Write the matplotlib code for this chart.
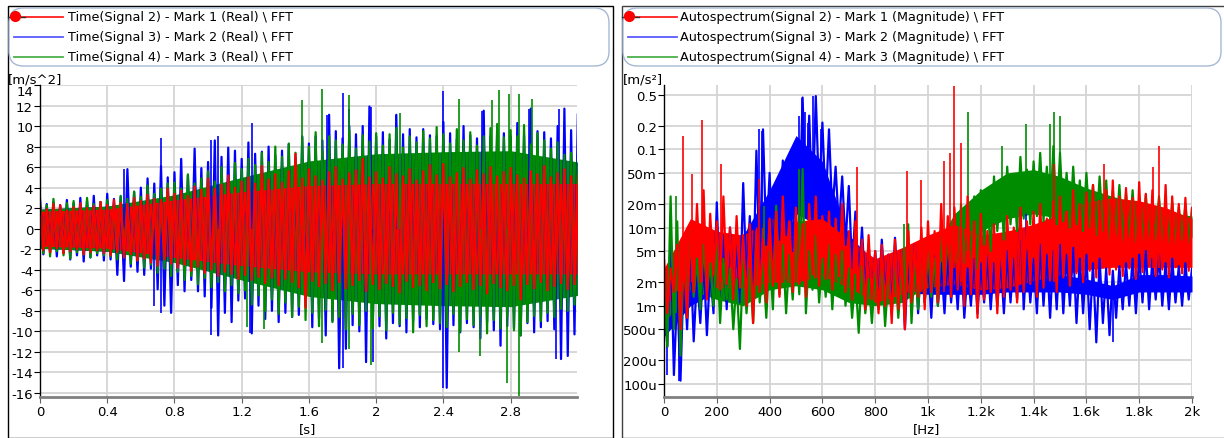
import numpy as np
import matplotlib.pyplot as plt
from matplotlib.patches import FancyBboxPatch, Rectangle
from matplotlib.lines import Line2D
from matplotlib.ticker import FixedLocator, FixedFormatter, NullLocator

plt.rcParams['font.family'] = 'DejaVu Sans'
plt.rcParams['axes.unicode_minus'] = False

W, H = 1224, 439
RED, BLUE, GREEN = '#ff0000', '#0000ff', '#008c00'

legend_time = ['Time(Signal 2) - Mark 1 (Real) \\ FFT',
               'Time(Signal 3) - Mark 2 (Real) \\ FFT',
               'Time(Signal 4) - Mark 3 (Real) \\ FFT']
legend_spec = ['Autospectrum(Signal 2) - Mark 1 (Magnitude) \\ FFT',
               'Autospectrum(Signal 3) - Mark 2 (Magnitude) \\ FFT',
               'Autospectrum(Signal 4) - Mark 3 (Magnitude) \\ FFT']

# ---- time signals [m/s^2]
# solid inner band every 0.4 s, swing extremes every 0.04 s, single peaks
t_core = [0.0, 0.4, 0.8, 1.2, 1.6, 2.0, 2.4, 2.8, 3.2]
red_core = [1.7, 1.9, 2.8, 3.6, 4.2, 4.4, 4.4, 4.4, 4.4]
green_core = [1.9, 2.2, 3.3, 5.0, 6.6, 7.3, 7.5, 7.6, 6.5]
blue_core = [1.9, 2.2, 3.2, 4.8, 6.3, 7.0, 7.2, 7.3, 6.3]

t_edge = [round(0.04 * k, 2) for k in range(81)]
red_hi = [2.2, 1.9, 2.4, 2.3, 1.8, 2.1, 2.5, 2.0, 2.2, 2.6,
          2.3, 2.8, 2.5, 2.4, 3.0, 2.7, 3.3, 2.9, 2.8, 3.9,
          3.4, 3.7, 3.2, 4.1, 3.8, 4.9, 3.9, 4.3, 5.2, 4.0,
          4.6, 5.0, 4.4, 6.1, 4.8, 5.3, 4.5, 5.6, 7.3, 4.9,
          5.8, 5.1, 4.7, 5.5, 6.0, 4.8, 5.4, 5.7, 6.8, 5.0,
          5.5, 4.9, 6.0, 5.3, 5.1, 5.8, 4.7, 5.6, 6.2, 5.2,
          6.3, 5.0, 5.4, 5.9, 4.8, 5.7, 5.3, 6.0, 5.1, 5.5,
          5.9, 5.2, 4.9, 5.6, 5.3, 6.1, 5.0, 5.4, 5.8, 5.1, 5.3]
red_lo = [-2.1, -2.3, -1.9, -2.4, -2.2, -2.0, -2.5, -2.3, -2.1, -2.4,
          -2.6, -2.3, -2.8, -2.5, -3.1, -2.9, -3.3, -3.6, -3.0, -3.4,
          -3.8, -3.5, -4.1, -3.7, -4.3, -4.0, -4.6, -4.2, -4.4, -4.9,
          -4.5, -5.0, -4.7, -5.3, -4.8, -5.5, -4.9, -5.2, -5.7, -7.7,
          -5.1, -5.6, -5.3, -6.0, -5.2, -5.8, -5.5, -5.0, -6.1, -5.4,
          -5.9, -5.3, -5.6, -6.2, -5.1, -5.7, -5.5, -6.0, -5.2, -5.8,
          -5.4, -6.1, -5.6, -5.2, -5.9, -5.5, -6.3, -5.3, -5.7, -6.0,
          -5.5, -6.9, -5.4, -5.8, -5.2, -6.0, -5.6, -5.3, -5.9, -5.4, -5.5]
green_hi = [2.6, 2.3, 2.9, 2.2, 2.5, 2.7, 2.3, 3.0, 2.4, 2.6,
            2.8, 2.5, 3.2, 2.9, 3.6, 3.1, 4.2, 3.4, 3.9, 4.4,
            4.5, 3.9, 5.3, 4.4, 4.9, 5.6, 4.6, 6.0, 5.1, 6.4,
            5.8, 6.8, 6.2, 7.4, 6.5, 8.0, 7.0, 8.3, 7.4, 8.9,
            8.0, 9.4, 7.6, 9.0, 8.6, 8.2, 9.6, 7.8, 9.1, 8.5,
            9.3, 8.1, 9.2, 9.8, 7.9, 9.0, 8.4, 9.5, 8.8, 9.9,
            9.2, 8.3, 9.7, 8.6, 9.4, 8.1, 9.0, 9.8, 10.2, 8.9,
            9.6, 9.0, 10.1, 8.2, 9.3, 8.6, 7.8, 8.4, 7.2, 7.4, 6.8]
green_lo = [-2.4, -2.7, -2.2, -2.6, -2.9, -2.3, -2.5, -2.8, -2.4, -2.6,
            -2.7, -3.0, -2.8, -3.4, -3.1, -3.8, -3.5, -4.3, -3.9, -4.6,
            -4.2, -5.0, -4.6, -5.4, -4.8, -5.7, -5.2, -6.1, -5.5, -6.3,
            -6.0, -7.4, -6.5, -8.0, -6.9, -8.3, -7.2, -8.6, -7.6, -8.9,
            -8.2, -9.5, -7.9, -9.1, -8.6, -9.8, -8.3, -9.4, -8.0, -9.7,
            -8.5, -9.9, -8.2, -9.3, -8.7, -10.1, -8.4, -9.5, -8.9, -9.2,
            -9.6, -8.3, -10.0, -8.8, -9.4, -8.5, -10.2, -8.9, -9.7, -8.6,
            -9.9, -10.4, -9.1, -8.5, -9.0, -8.2, -8.6, -7.8, -8.0, -7.4, -7.2]
blue_hi = [2.9, 2.4, 2.6, 2.3, 2.8, 2.5, 3.0, 2.7, 3.2, 2.6,
           3.4, 2.9, 3.1, 5.8, 3.6, 4.0, 4.9, 4.4, 6.1, 5.0,
           5.5, 6.8, 5.2, 7.8, 5.9, 6.5, 8.6, 7.0, 7.9, 7.6,
           6.8, 8.4, 7.3, 7.5, 8.0, 7.1, 7.6, 8.2, 6.9, 9.0,
           8.3, 9.0, 8.6, 11.1, 9.5, 8.8, 10.0, 9.2, 10.0, 11.9,
           9.0, 9.4, 8.7, 11.1, 9.2, 9.7, 8.9, 9.7, 9.1, 9.0,
           10.4, 9.3, 8.7, 10.0, 9.1, 8.8, 11.5, 9.0, 9.7, 9.3,
           9.0, 10.3, 9.1, 11.7, 9.5, 9.4, 8.8, 10.0, 11.7, 9.6, 11.2]
blue_lo = [-2.5, -2.3, -2.7, -2.4, -3.0, -2.6, -3.2, -2.8, -2.6, -3.1,
           -3.0, -4.5, -5.1, -3.7, -4.2, -4.5, -3.9, -5.9, -7.5, -8.2,
           -5.5, -6.1, -5.0, -6.1, -6.6, -7.7, -10.4, -8.2, -9.1, -7.0,
           -6.8, -10.2, -7.5, -8.8, -8.0, -9.1, -8.2, -8.6, -8.4, -7.5,
           -9.6, -8.8, -10.4, -9.0, -13.6, -11.7, -9.4, -10.0, -13.0, -9.3,
           -9.5, -10.7, -9.2, -9.5, -10.1, -9.0, -9.6, -8.8, -9.3, -9.8,
           -15.5, -9.4, -10.1, -9.2, -9.6, -10.7, -9.1, -9.9, -11.4, -9.5,
           -9.7, -10.4, -9.2, -10.1, -9.6, -9.0, -9.8, -12.7, -12.4, -10.3, -11.1]

blue_pk_t = [0.50, 0.72, 1.02, 1.06, 1.26, 1.71, 1.80, 1.84, 1.97, 2.12, 2.40, 2.63, 2.91, 3.09,
             0.68, 0.72, 1.02, 1.25, 1.80, 1.98, 2.40, 3.07]
blue_pk_v = [5.8, 8.8, 8.6, 9.0, 10.3, 11.1, 13.2, 11.7, 11.9, 11.1, 13.4, 11.5, 11.7, 11.7,
             -7.5, -8.2, -10.4, -10.2, -13.6, -13.0, -15.5, -12.7]
green_pk_t = [1.56, 1.68, 1.84, 2.14, 2.49, 2.69, 2.73, 2.79, 2.85, 2.93,
              1.23, 1.33, 1.68, 1.84, 1.97, 2.49, 2.62, 2.78, 2.85]
green_pk_v = [12.5, 13.6, 13.0, 11.3, 12.6, 12.5, 13.5, 13.1, 13.1, 12.6,
              -9.6, -9.8, -11.1, -11.7, -13.3, -12.0, -12.4, -15.0, -16.3]

# ---- autospectra [m/s^2], values in milli
# solid inner band every 100 Hz, swing extremes every 25 Hz, single strokes
f_core = [100 * k for k in range(21)]
red_core_lo = [1.0, 2.0, 1.7, 1.7, 2.0, 2.0, 2.4, 1.7, 1.1, 1.4, 1.7, 1.9, 1.6, 1.7, 2.1, 2.5, 2.9, 3.1, 3.1, 3.1, 3.1]
red_core_hi = [3, 13, 9, 8, 13, 12, 13, 7, 4, 5.5, 8, 11, 8, 9, 11, 15, 21, 24, 22, 18, 13]
green_core_lo = [0.6, 1.6, 1.2, 1.0, 1.6, 1.8, 1.6, 1.1, 1.0, 1.1, 1.8, 4.5, 9, 13, 15, 13, 10, 8.5, 7.5, 7.5, 7.5]
green_core_hi = [1.5, 4, 3, 2.5, 4, 4.5, 4, 2.5, 2, 2.5, 4, 15, 30, 50, 55, 45, 32, 25, 20, 16, 14]
blue_core_lo = [0.4, 1.0, 1.5, 2.0, 5, 15, 10, 2.5, 1.8, 1.5, 1.4, 1.4, 1.4, 1.5, 1.5, 1.5, 1.4, 1.2, 1.5, 1.5, 1.5]
blue_core_hi = [1.5, 3, 4, 8, 30, 150, 70, 8, 3.5, 3, 2.2, 2.2, 2.2, 2.5, 2.5, 2.5, 2.2, 1.8, 2.5, 2.5, 2.4]

f_edge = [25 * k for k in range(81)]
red_ehi = [4, 3, 6, 5, 9, 20, 30, 15, 12, 25,
           10, 14, 8, 11, 9, 7, 13, 16, 25, 12,
           18, 11, 20, 25, 14, 16, 13, 20, 9, 12,
           7, 8, 5, 6, 4.5, 7, 5, 9, 6, 10,
           12, 9, 20, 14, 18, 10, 25, 12, 15, 9,
           11, 8, 14, 10, 18, 12, 16, 20, 13, 22,
           25, 16, 30, 20, 28, 35, 22, 30, 40, 25,
           32, 24, 38, 27, 30, 22, 35, 25, 20, 24, 18]
red_elo = [0.8, 1.5, 0.5, 0.7, 1.5, 2.0, 1.2, 2.5, 1.6, 1.9,
           1.2, 1.7, 1.0, 0.6, 1.5, 1.1, 1.8, 1.3, 2.2, 1.5,
           1.9, 1.3, 2.5, 1.8, 2.2, 1.6, 2.4, 1.5, 1.2, 1.6,
           0.9, 1.2, 0.8, 1.0, 0.6, 0.9, 0.5, 1.1, 1.3, 0.9,
           1.5, 1.1, 1.8, 1.3, 1.6, 1.0, 1.4, 0.7, 1.2, 1.5,
           0.8, 1.3, 1.6, 1.1, 1.5, 1.9, 1.3, 1.7, 2.1, 1.5,
           2.3, 1.8, 2.6, 2.0, 2.8, 2.3, 3.1, 2.5, 2.9, 2.4,
           3.0, 2.2, 2.7, 3.2, 2.4, 2.9, 2.3, 3.1, 2.6, 2.8, 2.7]
green_ehi = [2, 25, 12, 5, 9, 4, 6, 3.5, 7, 4,
             3, 2.2, 4, 3, 8, 3.5, 5, 19, 6, 4.5,
             7, 56, 5, 8, 4, 6, 4.5, 5, 3, 2.5,
             3.2, 2.2, 2.8, 3.5, 2.4, 3, 2.6, 11, 4, 3.5,
             5, 4, 8, 7, 12, 20, 15, 25, 30, 22,
             45, 35, 60, 40, 80, 55, 70, 90, 60, 110,
             90, 50, 60, 40, 50, 35, 45, 40, 30, 35,
             28, 30, 24, 26, 22, 25, 19, 21, 18, 20, 17]
green_elo = [0.3, 0.5, 0.23, 0.8, 1.3, 0.9, 1.5, 1.0, 0.6, 1.2,
             0.5, 0.28, 0.8, 0.6, 1.1, 0.7, 0.9, 1.4, 0.8, 1.2,
             1.4, 0.8, 1.6, 1.1, 1.3, 0.9, 1.5, 1.0, 0.7, 0.45,
             0.8, 0.6, 0.9, 0.55, 0.8, 0.7, 1.0, 0.6, 0.9, 1.1,
             1.3, 1.0, 1.8, 2.5, 2.0, 3.5, 4, 3, 6, 5,
             9, 7, 11, 9, 13, 11, 14, 12, 13, 11,
             12, 10, 11, 9, 10, 8, 9, 7, 8, 7,
             7.5, 6.5, 7, 6, 7, 6, 6.5, 6, 7, 6.5, 7]
blue_ehi = [2, 8, 1.5, 3, 5, 2.5, 4, 3, 21, 8,
            10, 6, 37, 14, 96, 180, 50, 35, 72, 40,
            100, 460, 270, 480, 220, 180, 60, 45, 34, 16,
            10, 6, 5, 7, 4.5, 7.4, 5, 4, 6, 4.5,
            4, 5, 3.5, 4.5, 3.5, 5, 3, 4, 3.5, 4.5,
            3.5, 4, 5, 4, 16, 5, 4, 6, 4.5, 5,
            6, 4.5, 5.5, 4, 4.5, 3.5, 4, 3, 2.8, 3.2,
            3.5, 4, 4.5, 5, 4, 4.5, 3.5, 4, 3.2, 3.5, 3]
blue_elo = [0.3, 0.13, 0.11, 0.5, 0.35, 0.6, 0.42, 0.8, 1.2, 0.9,
            1.5, 1.1, 2, 1.6, 3, 6, 4, 7, 8, 5,
            12, 20, 15, 25, 18, 15, 10, 6, 3, 2,
            1.5, 1.3, 1.1, 1.4, 0.9, 1.2, 0.5, 1.0, 0.8, 1.1,
            0.7, 1.0, 0.8, 1.1, 0.9, 0.7, 1.0, 0.8, 1.1, 0.9,
            1.0, 0.8, 1.1, 1.2, 0.9, 1.1, 0.8, 1.0, 0.7, 0.9,
            0.8, 1.0, 0.6, 0.8, 0.5, 0.34, 0.6, 0.42, 0.7, 0.9,
            1.0, 0.8, 1.1, 0.9, 1.2, 1.0, 0.9, 1.1, 1.0, 1.2, 1.1]

blue_sf = [13, 57, 360, 370, 511, 521, 533, 544, 565, 596, 1370, 1700]
blue_slo = [0.13, 0.11, 10, 10, 20, 20, 20, 20, 20, 20, 1.5, 0.34]
blue_shi = [1, 0.8, 180, 170, 270, 460, 300, 220, 480, 180, 16, 2]
green_sf = [47, 378, 511, 909, 1150, 1280, 1372, 1463, 1478, 1500]
green_slo = [0.8, 2, 2, 1, 5, 12, 15, 15, 15, 15]
green_shi = [25, 19, 56, 11, 300, 110, 210, 210, 300, 270]
red_sf = [73, 107, 145, 215, 360, 730, 920, 972, 1060, 1085, 1100, 1125, 1478, 1665, 1853, 1875]
red_slo = [2, 2, 2, 2, 2, 1.5, 1.5, 1.5, 1.5, 2, 3, 2, 2, 3, 3, 3]
red_shi = [150, 49, 240, 65, 42, 59, 53, 40, 70, 90, 650, 120, 65, 65, 59, 110]

# ---------------------------------------------------------------------------
fig = plt.figure(figsize=(W / 100, H / 100), dpi=100)
fig.patch.set_facecolor('white')


def px_ax(x0, y0, x1, y1):
    return fig.add_axes([x0 / W, 1 - y1 / H, (x1 - x0) / W, (y1 - y0) / H])


def style(ax):
    ax.grid(True, color='#d4d4d4', lw=1.3)
    ax.set_axisbelow(True)
    for s in ('top', 'right'):
        ax.spines[s].set_visible(False)
    ax.spines['left'].set_color('black')
    ax.spines['left'].set_linewidth(1.0)
    ax.spines['bottom'].set_color('#808080')
    ax.spines['bottom'].set_linewidth(2.0)
    ax.tick_params(axis='y', length=4, width=0.8, color='black', labelsize=9.5, pad=1)
    ax.tick_params(axis='x', length=4, width=0.8, color='#606060', labelsize=9.5, pad=2)
    ax.yaxis.set_minor_locator(NullLocator())
    ax.xaxis.set_minor_locator(NullLocator())


def swing(ax, x, hi, lo, step, c, lw):
    # trace that swings between the two extremes in each time / frequency bin
    xs = np.ravel(np.column_stack([x, np.array(x) + step / 2]))
    ys = np.ravel(np.column_stack([hi, lo]))
    ax.plot(xs, ys, color=c, lw=lw)


# time plot
ax1 = px_ax(40, 86, 577, 398)
for core, hi, lo, pt, pv, c in [(blue_core, blue_hi, blue_lo, blue_pk_t, blue_pk_v, BLUE),
                                (green_core, green_hi, green_lo, green_pk_t, green_pk_v, GREEN),
                                (red_core, red_hi, red_lo, [], [], RED)]:
    core = np.array(core)
    ax1.fill_between(t_core, -core, core, color=c, lw=0)
    swing(ax1, t_edge, hi, lo, 0.04, c, 1.6)
    if pt:
        ax1.vlines(pt, 0, pv, colors=c, lw=1.2)
ax1.set_xlim(0, 3.195)
ax1.set_ylim(-16.4, 14)
ax1.set_xticks([0, 0.4, 0.8, 1.2, 1.6, 2, 2.4, 2.8])
ax1.set_xticklabels(['0', '0.4', '0.8', '1.2', '1.6', '2', '2.4', '2.8'])
ax1.set_yticks(range(-16, 15, 2))
style(ax1)
ax1.get_yticklabels()[-1].set_va('top')

# spectrum plot
ax2 = px_ax(664, 86, 1192, 398)
m = 1e-3
for clo, chi, elo, ehi, sf, slo, shi, c in [
        (blue_core_lo, blue_core_hi, blue_elo, blue_ehi, blue_sf, blue_slo, blue_shi, BLUE),
        (green_core_lo, green_core_hi, green_elo, green_ehi, green_sf, green_slo, green_shi, GREEN),
        (red_core_lo, red_core_hi, red_elo, red_ehi, red_sf, red_slo, red_shi, RED)]:
    ax2.fill_between(f_core, np.array(clo) * m, np.array(chi) * m, color=c, lw=0)
    swing(ax2, f_edge, np.array(ehi) * m, np.array(elo) * m, 25, c, 1.6)
    ax2.vlines(sf, np.array(slo) * m, np.array(shi) * m, colors=c, lw=1.2)
ax2.set_yscale('log')
ax2.set_xlim(0, 2000)
ax2.set_ylim(6.8e-5, 0.665)
yt = [0.5, 0.2, 0.1, 50e-3, 20e-3, 10e-3, 5e-3, 2e-3, 1e-3, 500e-6, 200e-6, 100e-6]
ax2.yaxis.set_major_locator(FixedLocator(yt))
ax2.yaxis.set_major_formatter(FixedFormatter(
    ['0.5', '0.2', '0.1', '50m', '20m', '10m', '5m', '2m', '1m', '500u', '200u', '100u']))
ax2.set_xticks(range(0, 2001, 200))
ax2.set_xticklabels(['0', '200', '400', '600', '800', '1k', '1.2k', '1.4k', '1.6k', '1.8k', '2k'])
style(ax2)

# unit labels
fig.text(8 / W, 1 - 80 / H, '[m/s^2]', fontsize=9.5, va='center', ha='left')
fig.text(623 / W, 1 - 80 / H, '[m/s\u00b2]', fontsize=9.5, va='center', ha='left')
fig.text(308 / W, 1 - 430 / H, '[s]', fontsize=9.5, va='center', ha='center')
fig.text(927 / W, 1 - 430 / H, '[Hz]', fontsize=9.5, va='center', ha='center')

# panel frames
fig.add_artist(Rectangle((8 / W, 0), (613 - 8) / W, 1 - 7 / H, transform=fig.transFigure,
                         fill=False, ec='black', lw=1.0))
fig.add_artist(Rectangle((622 / W, 0), (1230 - 622) / W, 1 - 7 / H, transform=fig.transFigure,
                         fill=False, ec='#404040', lw=1.0))

# legends
for x0, x1, tx, labels in [(9, 609, 68, legend_time), (623, 1221, 680, legend_spec)]:
    fig.add_artist(FancyBboxPatch((x0 / W, 1 - 67 / H), (x1 - x0) / W, (67 - 9) / H,
                                  boxstyle='round,pad=0,rounding_size=0.012',
                                  transform=fig.transFigure, fc='white', ec='#a6b8d4', lw=1.0,
                                  mutation_aspect=W / H))
    for i, (lab, c) in enumerate(zip(labels, ['#ff2020', '#5a5aff', '#4cb04c'])):
        y = 1 - (18 + 20 * i) / H
        fig.add_artist(Line2D([(x0 + 5) / W, (x0 + 54) / W], [y, y], color=c, lw=1.3,
                              transform=fig.transFigure))
        fig.text(tx / W, y, lab, fontsize=9.2, va='center', ha='left')
    y = 1 - 18 / H
    fig.add_artist(Line2D([(x0 - 1) / W, (x0 + 16) / W], [y, y], color='#303030', lw=1.0,
                          transform=fig.transFigure))
    fig.add_artist(Line2D([(x0 + 6) / W], [1 - 17 / H], marker='o', ms=7, color='#ff0000',
                          transform=fig.transFigure))

fig.savefig('out.png', dpi=100)
